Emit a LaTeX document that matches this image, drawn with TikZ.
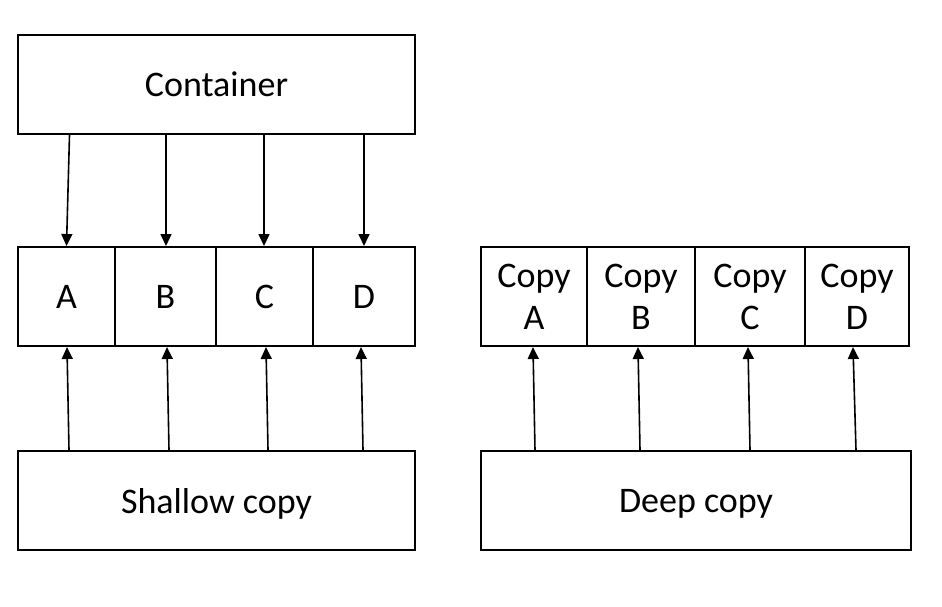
\documentclass[tikz,border=0pt]{standalone}
\usepackage{fontspec}
\setmainfont{Carlito}
\usetikzlibrary{arrows.meta,calc}
\begin{document}
\begin{tikzpicture}[x=1pt,y=-1pt,
  box/.style={draw,line width=2pt,rectangle,inner sep=0pt,minimum height=99pt,
    font=\fontsize{36}{42}\selectfont,align=center},
  letter/.style={box,text depth=0pt},
  arr/.style={line width=1.6pt,-{Triangle[length=12pt,width=11pt]}}]
\useasboundingbox (0,0) rectangle (942,606);
% top container
\node[letter,minimum width=397pt] (cont) at (216.5,84.5) {Container};
% shallow cells
\node[letter,minimum width=97pt]  (A) at (66.5,296.5) {A};
\node[letter,minimum width=101pt] (B) at (165.5,296.5) {B};
\node[letter,minimum width=97pt]  (C) at (264.5,296.5) {C};
\node[letter,minimum width=102pt] (D) at (364,296.5) {D};
\node[letter,minimum width=397pt] (shallow) at (216.5,500.5) {Shallow copy};
% deep cells
\node[box,minimum width=106pt] (CA) at (534,296.5) {Copy\\\smash{A}};
\node[box,minimum width=108pt] (CB) at (641,296.5) {Copy\\\smash{B}};
\node[box,minimum width=110pt] (CC) at (750,296.5) {Copy\\\smash{C}};
\node[box,minimum width=104pt] (CD) at (857,296.5) {Copy\\\smash{D}};
\node[letter,minimum width=430pt] (deep) at (696,500.5) {Deep copy};
% container arrows
\draw[arr] ($(A.north |- cont.south)+(3,0)$) -- (A.north);
\draw[arr] ($(B.north |- cont.south)+(0.5,0)$) -- ($(B.north)+(0.5,0)$);
\draw[arr] ($(C.north |- cont.south)+(-0.5,0)$) -- ($(C.north)+(-0.5,0)$);
\draw[arr] (D.north |- cont.south) -- (D.north);
% shallow arrows
\draw[arr] ($(A.south |- shallow.north)+(2.5,0)$) -- ($(A.south)+(0.5,0)$);
\draw[arr] ($(B.south |- shallow.north)+(3.5,0)$) -- ($(B.south)+(1.5,0)$);
\draw[arr] ($(C.south |- shallow.north)+(3.5,0)$) -- ($(C.south)+(1.5,0)$);
\draw[arr] ($(D.south |- shallow.north)+(-1,0)$) -- ($(D.south)+(-3,0)$);
% deep arrows
\draw[arr] ($(CA.south |- deep.north)+(1,0)$) -- ($(CA.south)+(-1,0)$);
\draw[arr] ($(CB.south |- deep.north)+(-1,0)$) -- ($(CB.south)+(-3,0)$);
\draw[arr] (CC.south |- deep.north) -- ($(CC.south)+(-2,0)$);
\draw[arr] ($(CD.south |- deep.north)+(-1,0)$) -- ($(CD.south)+(-4,0)$);
\end{tikzpicture}
\end{document}
